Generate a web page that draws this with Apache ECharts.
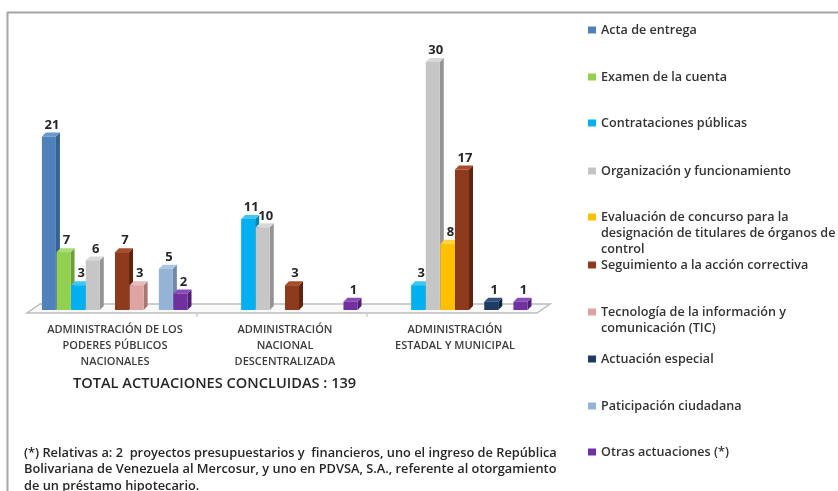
<!DOCTYPE html>
<html>
<head>
<meta charset="utf-8">
<script src="https://cdn.jsdelivr.net/npm/echarts@6/dist/echarts.min.js"></script>
<style>
html,body{margin:0;padding:0;background:#fff;}
#c{width:838px;height:491px;}
</style>
</head>
<body>
<div id="c"></div>
<script>
const categories = [
  'ADMINISTRACIÓN DE LOS\nPODERES PÚBLICOS\nNACIONALES',
  'ADMINISTRACIÓN\nNACIONAL\nDESCENTRALIZADA',
  'ADMINISTRACIÓN\nESTADAL Y MUNICIPAL'
];
const seriesNames = [
  'Acta de entrega',
  'Examen de la cuenta',
  'Contrataciones públicas',
  'Organización y funcionamiento',
  'Evaluación de concurso para la designación de titulares de órganos de control',
  'Seguimiento a la acción correctiva',
  'Tecnología de la información y comunicación (TIC)',
  'Actuación especial',
  'Paticipación ciudadana',
  'Otras actuaciones (*)'
];
const legendLabels = [
  'Acta de entrega',
  'Examen de la cuenta',
  'Contrataciones públicas',
  'Organización y funcionamiento',
  'Evaluación de concurso para la\ndesignación de titulares de órganos de\ncontrol',
  'Seguimiento a la acción correctiva',
  'Tecnología de la información y\ncomunicación (TIC)',
  'Actuación especial',
  'Paticipación ciudadana',
  'Otras actuaciones (*)'
];
const actaEntrega      = [21, null, null];
const examenCuenta     = [7, null, null];
const contrataciones   = [3, 11, 3];
const organizacion     = [6, 10, 30];
const evaluacion       = [null, null, 8];
const seguimiento      = [7, 3, 17];
const tecnologia       = [3, null, null];
const actuacionEsp     = [null, null, 1];
const participacion    = [5, null, null];
const otras            = [2, 1, 1];
const seriesValues = [actaEntrega, examenCuenta, contrataciones, organizacion, evaluacion,
                      seguimiento, tecnologia, actuacionEsp, participacion, otras];
const totalText = 'TOTAL ACTUACIONES CONCLUIDAS : 139';
const footnote = '(*) Relativas a: 2  proyectos presupuestarios y  financieros, uno el ingreso de República\nBolivariana de Venezuela al Mercosur, y uno en PDVSA, S.A., referente al otorgamiento\nde un préstamo hipotecario.';

const colors = ['#4F81BD', '#92D050', '#00B0F0', '#C6C6C6', '#FFC000',
                '#8E3A1C', '#E0A3A3', '#1F3A64', '#95B3D7', '#7030A0'];
const sideColors = ['#37618F', '#6E9E3A', '#0085B5', '#949494', '#C09000',
                    '#5E2410', '#A87676', '#12233D', '#6F88A8', '#4E1F72'];
const topColors = ['#6A97CC', '#A9DC72', '#40C6F4', '#D8D8D8', '#FFD040',
                   '#A84C2A', '#EBBABA', '#2F4F80', '#AEC6E2', '#8A4AB8'];

const N = seriesNames.length;
const FONT = '"Open Sans", "DejaVu Sans", sans-serif';

function makeRender(si) {
  return function (params, api) {
    const v = api.value(1);
    if (v == null || isNaN(v)) return null;
    const cat = api.value(0);
    const base = api.coord([cat, 0]);
    const top = api.coord([cat, v]);
    const band = api.size([1, 0])[0];
    const groupW = band * 0.86;
    const slot = groupW / N;
    const x = base[0] - groupW / 2 + si * slot;
    const w = slot - 0.6;
    const d = 4;
    const yb = base[1], yt = top[1];
    return {
      type: 'group',
      children: [
        { type: 'polygon', shape: { points: [[x + w, yt], [x + w + d, yt - d], [x + w + d, yb - d], [x + w, yb]] },
          style: { fill: sideColors[si] } },
        { type: 'polygon', shape: { points: [[x, yt], [x + d, yt - d], [x + w + d, yt - d], [x + w, yt]] },
          style: { fill: topColors[si] } },
        { type: 'rect', shape: { x: x, y: yt, width: w, height: yb - yt },
          style: { fill: colors[si] } },
        { type: 'text', style: { text: String(v), x: x + (w + d) / 2 + 1, y: yt - d - 1,
          align: 'center', verticalAlign: 'bottom', font: 'bold 13px ' + FONT, fill: '#262626' } }
      ]
    };
  };
}

const series = [];
// floor
series.push({
  type: 'custom',
  silent: true,
  z: 1,
  data: [[0, 0]],
  renderItem: function (params, api) {
    const cs = params.coordSys;
    const x0 = cs.x, x1 = cs.x + cs.width, y0 = cs.y + cs.height;
    const band = cs.width / categories.length;
    const kids = [
      { type: 'polygon', shape: { points: [[x0 - 3, y0 + 3], [x1 - 3, y0 + 3], [x1 + 10, y0 - 6], [x0 + 10, y0 - 6]] },
        style: { fill: '#F9F9F9', stroke: '#BDBDBD', lineWidth: 1.5 } }
    ];
    for (let i = 1; i < categories.length; i++) {
      kids.push({ type: 'line', shape: { x1: x0 - 3 + band * i, y1: y0 + 4, x2: x0 - 3 + band * i, y2: y0 + 7 },
        style: { stroke: '#BDBDBD', lineWidth: 1 } });
    }
    return { type: 'group', children: kids };
  }
});
seriesNames.forEach(function (name, si) {
  series.push({
    type: 'custom',
    name: name,
    z: 2,
    itemStyle: { color: colors[si] },
    renderItem: makeRender(si),
    encode: { x: 0, y: 1 },
    data: seriesValues[si].map(function (v, ci) { return [ci, v == null ? NaN : v]; })
  });
});

const LH = 16;
const legendCenters = [29, 76, 122, 170, 216, 264, 311, 358, 405, 451];
const legends = seriesNames.map(function (name, i) {
  const lines = legendLabels[i].split('\n');
  const pad = lines.length - 1;
  let label = legendLabels[i];
  for (let k = 0; k < pad; k++) label = '\u200B\n' + label;
  const total = lines.length + pad;
  const topPos = legendCenters[i] - total * LH / 2 + 1;
  return {
    data: [name],
    left: 588,
    top: topPos,
    orient: 'vertical',
    icon: 'rect',
    itemWidth: 8,
    itemHeight: 7,
    selectedMode: false,
    padding: 0,
    formatter: function () { return label; },
    textStyle: { fontFamily: FONT, fontSize: 12.6, fontWeight: 600, color: '#333333', lineHeight: LH }
  };
});

const chart = echarts.init(document.getElementById('c'));
chart.setOption({
  animation: false,
  backgroundColor: '#fff',
  grid: { left: 30, right: 298, top: 62, bottom: 181, containLabel: false },
  xAxis: {
    type: 'category',
    data: categories,
    axisLine: { show: false },
    axisTick: { show: false },
    axisLabel: { interval: 0, margin: 12, fontFamily: FONT, fontSize: 11, fontWeight: 600, lineHeight: 16, color: '#3C3C3C' }
  },
  yAxis: { type: 'value', min: 0, max: 30, show: false, splitLine: { show: false } },
  legend: legends,
  graphic: [
    { type: 'line', shape: { x1: 7, y1: 12.5, x2: 838, y2: 12.5 }, style: { stroke: '#A6A6A6', lineWidth: 2 } },
    { type: 'line', shape: { x1: 7.5, y1: 12, x2: 7.5, y2: 491 }, style: { stroke: '#A6A6A6', lineWidth: 2 } },
    { type: 'text', left: 73, top: 376, style: { text: totalText, font: '600 14.6px ' + FONT, fill: '#262626' } },
    { type: 'text', left: 24, top: 445, style: { text: footnote, font: '600 12.8px ' + FONT, fill: '#262626', lineHeight: 16.5 } }
  ],
  series: series
});
</script>
</body>
</html>
